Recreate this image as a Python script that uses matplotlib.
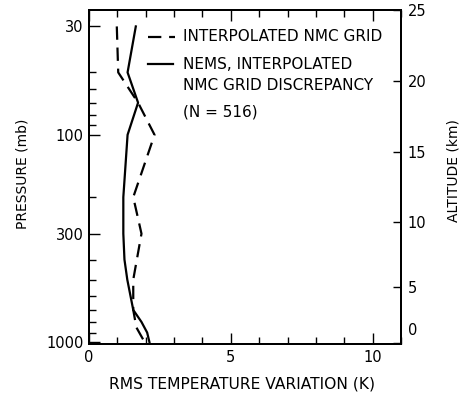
import matplotlib
matplotlib.use("Agg")
import numpy as np
import matplotlib.pyplot as plt
from matplotlib.ticker import FixedLocator, NullFormatter, MultipleLocator, FixedFormatter
from matplotlib.transforms import ScaledTranslation

plt.rcParams['font.family'] = ['DejaVu Sans']

# Data
pressure_nmc = [30, 50, 70, 100, 200, 300, 500, 700, 850, 1000]
rms_nmc = [0.98, 1.03, 1.73, 2.31, 1.56, 1.85, 1.56, 1.56, 1.67, 1.96]

pressure_nems = [30, 50, 70, 100, 200, 300, 400, 500, 700, 800, 900, 1000]
rms_nems = [1.65, 1.36, 1.73, 1.36, 1.21, 1.21, 1.25, 1.35, 1.56, 1.85, 2.05, 2.13]

p_major = [30, 100, 300, 1000]
p_minor = [50, 60, 70, 80, 90, 200, 400, 500, 600, 700, 800, 900]
x_major = [0, 5, 10]
alt_km = [0, 5, 10, 15, 20, 25]


def std_atm_pressure(z_km):
    """US standard atmosphere pressure (mb) at altitude z (km)."""
    z = np.asarray(z_km, dtype=float) * 1000.0
    p = np.where(
        z <= 11000,
        1013.25 * (1 - 0.0065 * z / 288.15) ** 5.2559,
        np.where(
            z <= 20000,
            226.32 * np.exp(-(z - 11000) / 6341.6),
            54.749 * (1 + 0.001 * (z - 20000) / 216.65) ** (-34.163),
        ),
    )
    return p


fig = plt.figure(figsize=(4.66, 3.96), dpi=100)
ax = fig.add_axes([0.191, 0.1313, 0.6695, 0.8434])

ax.plot(rms_nmc, pressure_nmc, color='black', lw=1.6, ls=(0, (6, 3.5)))
ax.plot(rms_nems, pressure_nems, color='black', lw=1.6)

ax.set_yscale('log')
ax.set_ylim(1022, 25.0)
ax.set_xlim(0, 11)

ax.yaxis.set_major_locator(FixedLocator(p_major))
ax.yaxis.set_major_formatter(FixedFormatter([str(p) for p in p_major]))
ax.yaxis.set_minor_locator(FixedLocator(p_minor))
ax.yaxis.set_minor_formatter(NullFormatter())

ax.xaxis.set_major_locator(FixedLocator(x_major))
ax.xaxis.set_minor_locator(MultipleLocator(1))

ax.tick_params(axis='both', which='both', direction='in', top=True, right=False,
               labelsize=10.5, width=1.0, pad=4)
ax.tick_params(axis='both', which='major', length=8)
ax.tick_params(axis='both', which='minor', length=5)

for s in ax.spines.values():
    s.set_linewidth(1.4)

ax.set_xlabel('RMS TEMPERATURE VARIATION (K)', fontsize=11.2)
ax.xaxis.set_label_coords(0.49, -0.097)
ax.set_ylabel('PRESSURE (mb)', fontsize=10)
ax.yaxis.set_label_coords(-0.19, 0.51)

ax2 = ax.twinx()
ax2.set_yscale('log')
ax2.set_ylim(ax.get_ylim())
alt_p = std_atm_pressure(alt_km)
ax2.yaxis.set_major_locator(FixedLocator(list(alt_p)))
ax2.yaxis.set_major_formatter(FixedFormatter([str(k) for k in alt_km]))
ax2.yaxis.set_minor_locator(FixedLocator([]))
ax2.tick_params(axis='y', which='major', direction='in', length=6, width=1.0,
                labelsize=10.5, pad=5)
ax2.set_ylabel('ALTITUDE (km)', fontsize=10)
ax2.yaxis.set_label_coords(1.146, 0.52)
for s in ax2.spines.values():
    s.set_linewidth(1.4)

# nudge the "0" altitude label up, as in the original
fig.canvas.draw()
labels = ax2.get_yticklabels()
labels[0].set_transform(labels[0].get_transform() +
                        ScaledTranslation(0, 10 / 72, fig.dpi_scale_trans))

# Legend (drawn manually in axes coordinates)
ax.plot([0.19, 0.275], [0.92, 0.92], transform=ax.transAxes, color='black',
        lw=1.6, ls=(0, (6, 3.5)))
ax.text(0.30, 0.92, 'INTERPOLATED NMC GRID', transform=ax.transAxes,
        fontsize=11, va='center', ha='left')
ax.plot([0.19, 0.27], [0.838, 0.838], transform=ax.transAxes, color='black', lw=1.6)
ax.text(0.30, 0.838, 'NEMS, INTERPOLATED', transform=ax.transAxes,
        fontsize=11, va='center', ha='left')
ax.text(0.30, 0.773, 'NMC GRID DISCREPANCY', transform=ax.transAxes,
        fontsize=11, va='center', ha='left')
ax.text(0.30, 0.695, '(N = 516)', transform=ax.transAxes,
        fontsize=11, va='center', ha='left')

fig.savefig('out.png', dpi=100)
